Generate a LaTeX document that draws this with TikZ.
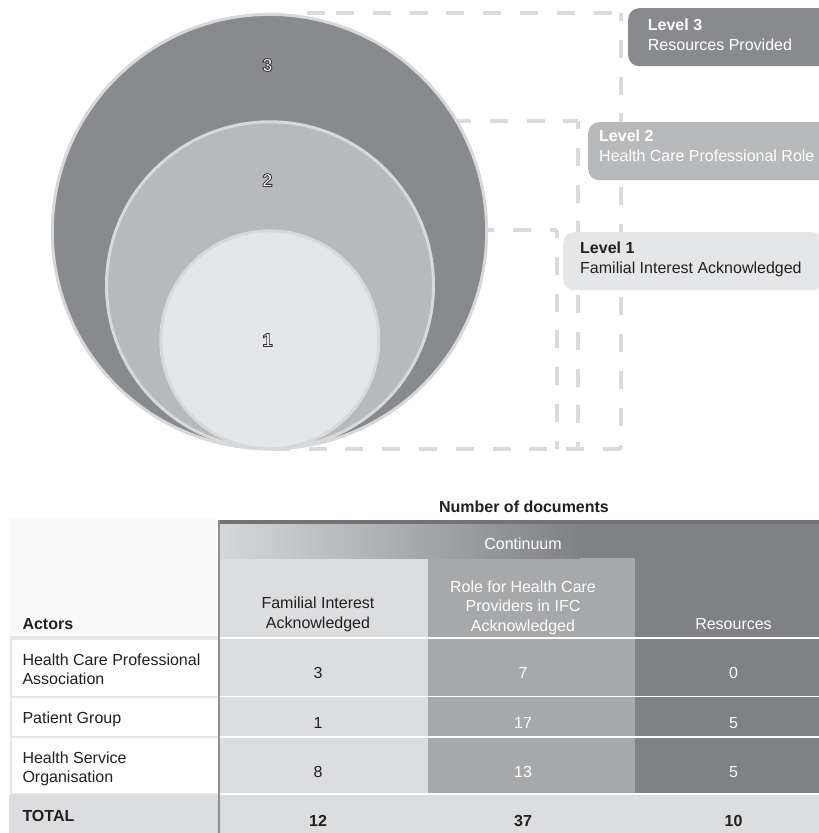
\documentclass[tikz,border=0pt]{standalone}
\usepackage{fontspec}
\setmainfont{Liberation Sans}
\newfontfamily\olfont[FakeBold=4.5]{Liberation Sans Bold}
\definecolor{dk}{HTML}{231F20}
\definecolor{c3}{HTML}{898A8D}
\definecolor{c2}{HTML}{B8B9BB}
\definecolor{c1}{HTML}{E5E6E7}
\definecolor{ring}{HTML}{D7D8DA}
\definecolor{dashc}{HTML}{D9DADB}
\definecolor{tcol1}{HTML}{DCDDDF}
\definecolor{tcol2}{HTML}{A7A8AA}
\definecolor{tcol3}{HTML}{808184}
\definecolor{topbar}{HTML}{727376}
\definecolor{gradl}{HTML}{D6D7D9}
\definecolor{vline}{HTML}{8E8F91}
\definecolor{cellline}{HTML}{E6E7E8}
\definecolor{actbg}{HTML}{FAFAFA}
\newcommand{\outl}[1]{\special{pdf:literal direct 0.2 0.2 0.21 RG}#1}
\begin{document}
\begin{tikzpicture}[x=1pt,y=-1pt,
  txt/.style={font=\fontsize{16}{19.2}\selectfont, inner sep=0pt, text=dk},
  btxt/.style={font=\fontsize{16}{19.2}\selectfont\bfseries, inner sep=0pt, text=dk},
  wtxt/.style={txt, text=white},
  digit/.style={font=\olfont\fontsize{18.5}{19}\selectfont, inner sep=0pt, text=white},
  dashln/.style={draw=dashc, line width=4.5pt, dash pattern=on 18pt off 18.8pt},
  ringc/.style={circle, draw=ring, line width=3pt, inner sep=0pt},
  levelbox/.style={rounded corners=11pt, minimum height=58pt, minimum width=260pt, anchor=north west, inner sep=0pt}
]
\useasboundingbox (0,0) rectangle (819,833);
\clip (0,0) rectangle (819,833);
\fill[white] (0,0) rectangle (819,833);

% ---- dashed frames (behind circles)
\coordinate (t3c) at (307,13);   \coordinate (t3d) at (325,13);
\coordinate (t3l) at (336,13);   \coordinate (t3r) at (621,13);  \coordinate (b3r) at (621,449); \coordinate (b3l) at (268,449);
\coordinate (t2l) at (453,121);  \coordinate (t2r) at (578,121); \coordinate (b2r) at (578,449);
\coordinate (t1l) at (476,230);  \coordinate (t1r) at (557,230); \coordinate (b1r) at (557,449);
\draw[draw=dashc, line width=4.5pt] (t3c) -- (t3d);
\draw[dashln] (t3l) -- (t3r);
\draw[dashln, dash phase=10pt] (t3r) -- (b3r);
\draw[dashln] (b3r) -- (b3l);
\draw[dashln] (t2l) -- (t2r);
\draw[dashln, dash phase=10pt] (t2r) -- (b2r);
\draw[dashln] (t1l) -- (t1r);
\draw[dashln, dash phase=10pt] (t1r) -- (b1r);

% ---- circles
\node[ringc, fill=c3, minimum size=434.4pt] (outer) at (269.5,231.6) {};
\node[ringc, fill=c2, minimum size=327pt] (middle) at (270,285.3) {};
\node[ringc, fill=c1, minimum size=218pt] (inner) at (269.8,339.8) {};
\node[digit] (d3) at (267.5,65) {\outl{3}};
\node[digit] (d2) at (267.5,180) {\outl{2}};
\node[digit] (d1) at (267.5,340) {\outl{1}};

% ---- level boxes
\node[levelbox, fill=c3] (box3) at (628,8) {};
\node[levelbox, fill=c2] (box2) at (588,122) {};
\node[levelbox, fill=c1] (box1) at (563,232) {};
\node[wtxt, anchor=base west, align=left] (lab3) at (647.7,50) {\textbf{Level 3}\\Resources Provided};
\node[wtxt, anchor=base west, align=left] (lab2) at (599,161) {\textbf{Level 2}\\Health Care Professional Role};
\node[txt, anchor=base west, align=left] (lab1) at (580,273) {\textbf{Level 1}\\Familial Interest Acknowledged};

% ---- table backgrounds
\fill[actbg] (9,518) rectangle (218,636);
\fill[white] (11,638) rectangle (218,794);
\fill[tcol1] (220,558) rectangle (428,794);
\fill[tcol2] (428,558) rectangle (635,794);
\fill[tcol3] (635,524) rectangle (819,794);
\fill[tcol3] (580,524) rectangle (635,558);
\shade[left color=gradl, right color=tcol3] (220,524) rectangle (580,558);
\fill[topbar] (218,520) rectangle (819,524);
\fill[tcol1] (9,795) rectangle (819,833);
% separators
\draw[white, line width=1.5pt] (220,638) -- (819,638);
\draw[white, line width=1.5pt] (220,696.5) -- (819,696.5);
\draw[white, line width=1.5pt] (220,737) -- (819,737);
\draw[white, line width=1.5pt] (220,794) -- (819,794);
\draw[cellline, line width=4pt] (10,638) -- (218,638);
\draw[cellline, line width=2pt] (10,696.5) -- (218,696.5);
\draw[cellline, line width=2pt] (10,737) -- (218,737);
\draw[cellline, line width=2pt] (10,794) -- (218,794);
\draw[cellline, line width=2pt] (11,636) -- (11,794);
\draw[vline, line width=1.8pt] (219,520) -- (219,833);

% ---- table texts
\node[btxt, anchor=base] (numdocs) at (524,512.5) {Number of documents};
\node[wtxt, anchor=base] (cont) at (523,549) {Continuum};
\node[txt, anchor=base, align=center] (h1) at (318,628) {Familial Interest\\Acknowledged};
\node[wtxt, anchor=base, align=center] (h2) at (523,631) {Role for Health Care\\Providers in IFC\\Acknowledged};
\node[wtxt, anchor=base] (h3) at (733.5,629.3) {Resources};
\node[btxt, anchor=base west] (actors) at (22.3,629.3) {Actors};

\node[txt, anchor=base west, align=left] (a1) at (22.3,684.3) {Health Care Professional\\Association};
\node[txt, anchor=base west] (a2) at (22.3,723.3) {Patient Group};
\node[txt, anchor=base west, align=left] (a3) at (22.3,782.3) {Health Service\\Organisation};
\node[btxt, anchor=base west] (tot) at (22.3,821.7) {TOTAL};

\node[txt, anchor=base] (v11) at (318,678.7) {3};
\node[wtxt, anchor=base] (v12) at (523,678.7) {7};
\node[wtxt, anchor=base] (v13) at (733.5,678.7) {0};
\node[txt, anchor=base] (v21) at (318,728.3) {1};
\node[wtxt, anchor=base] (v22) at (523,728.3) {17};
\node[wtxt, anchor=base] (v23) at (733.5,728.3) {5};
\node[txt, anchor=base] (v31) at (318,777.7) {8};
\node[wtxt, anchor=base] (v32) at (523,777.7) {13};
\node[wtxt, anchor=base] (v33) at (733.5,777.7) {5};
\node[btxt, anchor=base] (t1) at (318,826.7) {12};
\node[btxt, anchor=base] (t2) at (523,826.7) {37};
\node[btxt, anchor=base] (t3) at (733.5,826.7) {10};
\end{tikzpicture}
\end{document}
